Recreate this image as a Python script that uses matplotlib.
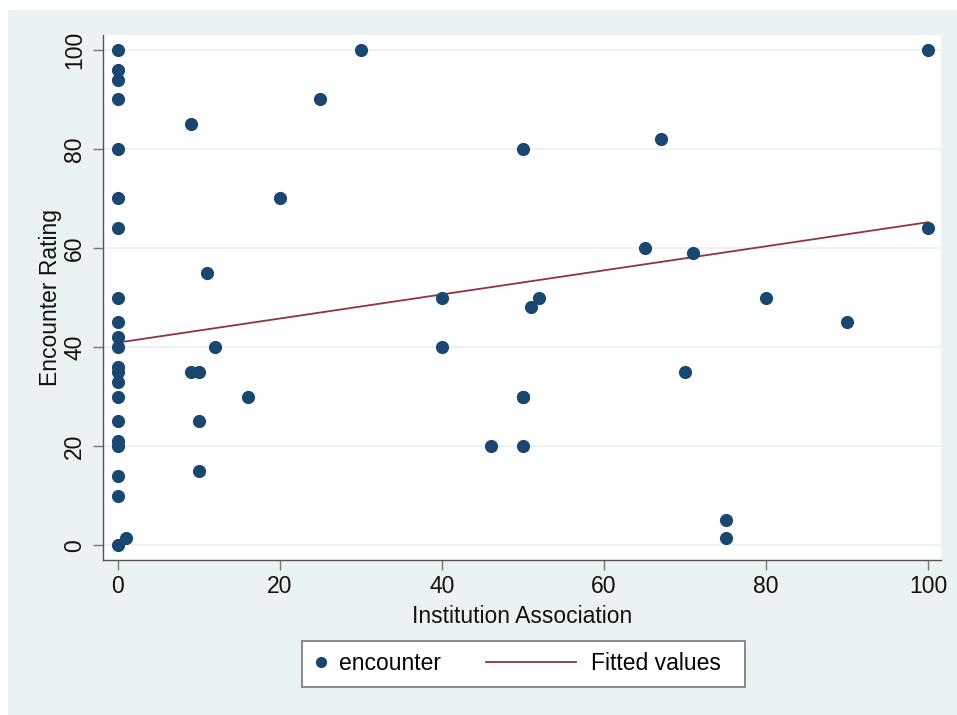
import numpy as np
import matplotlib.pyplot as plt
from matplotlib.patches import Rectangle
from matplotlib.legend_handler import HandlerLine2D

plt.rcParams['font.family'] = ['Liberation Sans', 'DejaVu Sans']

# institution association (x) and encounter rating (y)
institution = [0, 0, 0, 0, 0, 0, 0, 0, 0, 0, 0, 0, 0, 0, 0, 0, 0, 0, 0, 0, 0,
               1, 9, 9, 10, 10, 10, 11, 12, 16, 20, 25, 30,
               40, 40, 46, 50, 50, 50, 50, 51, 52,
               65, 67, 70, 71, 75, 75, 80, 90, 100, 100]
encounter = [100, 96, 94, 90, 80, 70, 64, 50, 45, 42, 40, 36, 35, 33, 30, 25, 21, 20, 14, 10, 0,
             1.5, 85, 35, 35, 25, 15, 55, 40, 30, 70, 90, 100,
             50, 40, 20, 80, 30, 20, 30, 48, 50,
             60, 82, 35, 59, 5, 1.5, 50, 45, 100, 64]

# fitted values (many points overlap, so a refit drifts)
fit_x = [0, 100]
fit_y = [40.9, 65.2]

x_ticks = [0, 20, 40, 60, 80, 100]
y_ticks = [0, 20, 40, 60, 80, 100]

navy = '#1a476f'
maroon = '#90353b'
bg = '#eaf2f3'
fs = 16.5
W, H = 957, 715


class LeftMarker(HandlerLine2D):
    # dot sits at the left of its slot
    def get_xdata(self, legend, xdescent, ydescent, width, height, fontsize):
        xd = np.array([-xdescent, -xdescent + width])
        return xd, np.array([-xdescent + 4.3])


class LongLine(HandlerLine2D):
    # line reaches back to the left past its slot
    def get_xdata(self, legend, xdescent, ydescent, width, height, fontsize):
        xd = np.array([-xdescent - 55.5, -xdescent + 9.4])
        return xd, xd


fig = plt.figure(figsize=(W / 100, H / 100), dpi=100, facecolor='white')
fig.patches.append(Rectangle((8 / W, 0), 1 - 8 / W, 705 / H,
                             transform=fig.transFigure, facecolor=bg,
                             edgecolor='none', zorder=-10))

ax = fig.add_axes([103 / W, 155 / H, 838 / W, 525 / H])
ax.set_facecolor('white')
dots, = ax.plot(institution, encounter, 'o', color=navy, markersize=9.5,
                markeredgewidth=0, label='encounter', zorder=3)
fitline, = ax.plot(fit_x, fit_y, color=maroon, linewidth=1.3,
                   label='Fitted values', zorder=2)

ax.set_xlim(-1.85, 101.6)
ax.set_ylim(-3.0, 103)
ax.set_xticks(x_ticks)
ax.set_yticks(y_ticks)
ax.grid(axis='y', color=bg, linewidth=1.3, zorder=0)
ax.set_axisbelow(True)

for side in ['top', 'right']:
    ax.spines[side].set_visible(False)
for side in ['left', 'bottom']:
    ax.spines[side].set_color('#555555')
    ax.spines[side].set_linewidth(1.0)

ax.tick_params(axis='both', direction='out', length=7, width=1,
               color='#777777', labelsize=fs, labelcolor='#111111')
ax.tick_params(axis='x', pad=4)
ax.tick_params(axis='y', pad=5)
plt.setp(ax.get_yticklabels(), rotation=90, va='center')

ax.set_xlabel('Institution Association', fontsize=fs, color='#111111', labelpad=5)
ax.set_ylabel('Encounter Rating', fontsize=fs, color='#111111', labelpad=1)

# legend box drawn by hand so its padding can be wider than tall
fig.patches.append(Rectangle((302 / W, 1 - 687 / H), 443 / W, 46 / H,
                             transform=fig.transFigure, facecolor='white',
                             edgecolor='#777777', linewidth=1.2, zorder=1))
leg = fig.legend(loc='center', bbox_to_anchor=(516 / W, 1 - 664 / H),
                 ncol=2, fontsize=fs, frameon=False,
                 handlelength=0.8, columnspacing=5.3, handletextpad=0.42,
                 borderpad=0.45, markerscale=0.85,
                 handler_map={dots: LeftMarker(), fitline: LongLine()})
leg.set_zorder(2)

fig.savefig('out.png', dpi=100, facecolor=fig.get_facecolor())
